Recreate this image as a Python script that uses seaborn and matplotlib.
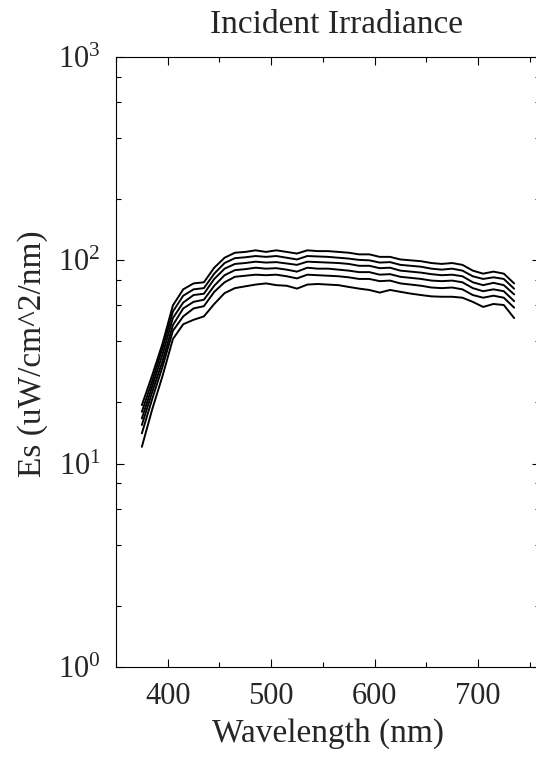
import matplotlib
matplotlib.use("Agg")
import matplotlib.pyplot as plt
import numpy as np
import pandas as pd
import seaborn as sns
from matplotlib.ticker import FixedLocator, MultipleLocator, LogLocator, NullFormatter, LogFormatterMathtext

# ---- data ----
wavelength = [375, 385, 395, 405, 415, 425, 435, 445, 455, 465, 475, 485, 495,
              505, 515, 525, 535, 545, 555, 565, 575, 585, 595, 605, 615, 625,
              635, 645, 655, 665, 675, 685, 695, 705, 715, 725, 735]

es_1 = [19.4, 27.2, 39, 60, 72, 77, 78, 92, 103, 109, 110, 112, 110,
        112, 110, 108, 112, 111, 111, 110, 109, 107, 107, 104, 104, 101,
        100, 99, 97, 96, 97, 95, 89, 86, 88, 86, 77]
es_2 = [18.0, 25.5, 37, 56, 67, 72, 73, 86, 97, 102.5, 103.5, 105, 104,
        105, 103, 101, 105, 104.5, 104, 103, 102, 100.5, 100, 97.5, 98, 95,
        94, 93, 91, 90, 91, 89, 83.5, 81, 82.5, 81, 72.5]
es_3 = [16.7, 24.0, 34.5, 52, 62, 67.5, 68.5, 81, 91, 96, 97, 98.5, 97.5,
        98, 96.5, 95, 98.5, 98, 97.5, 97, 96, 94, 94, 91.5, 92, 89,
        88, 87, 85.5, 84.5, 85, 83.5, 78, 75.5, 77.5, 75.5, 68]
es_4 = [15.5, 22.5, 32, 48, 58, 62.5, 64, 75, 84.5, 89.5, 90.5, 92, 91,
        91.5, 90, 88, 92, 91, 91, 90, 89, 87.5, 87.5, 85, 85.5, 83,
        82, 81, 79.5, 79, 79.5, 78, 73, 70.5, 72, 70.5, 63]
es_5 = [14.1, 20.8, 30, 45, 53, 58, 59.5, 70, 78, 83, 84, 85, 84.5,
        85, 83.5, 81.5, 85, 84.5, 84, 83.5, 82.5, 81, 81, 79, 79.5, 77,
        76, 75, 73.5, 73, 73.5, 72, 67.5, 65.5, 67, 65.5, 58.5]
es_6 = [12.1, 18.5, 27, 41, 48.5, 51, 53, 61, 69, 73, 74.5, 76, 77,
        75.5, 75, 72.6, 76, 76.5, 76, 75.5, 74, 72.6, 71.5, 69.4, 71.5, 70,
        68.6, 67.5, 66.5, 66.2, 66.2, 65.5, 62.5, 59, 61, 60.3, 52]

series = {"1": es_1, "2": es_2, "3": es_3, "4": es_4, "5": es_5, "6": es_6}

x_major = [400, 500, 600, 700]
title_text = "Incident Irradiance"
x_label = "Wavelength (nm)"
y_label = "Es (uW/cm^2/nm)"

frames = [pd.DataFrame({"wavelength": wavelength, "es": vals, "series": name})
          for name, vals in series.items()]
df = pd.concat(frames, ignore_index=True)

# ---- style ----
sns.set_style("ticks")
plt.rcParams["font.family"] = ["Liberation Serif", "DejaVu Serif"]
plt.rcParams["mathtext.fontset"] = "custom"
plt.rcParams["mathtext.rm"] = "Liberation Serif"
plt.rcParams["mathtext.it"] = "Liberation Serif:italic"
plt.rcParams["mathtext.bf"] = "Liberation Serif:bold"

W, H = 536, 758
fig = plt.figure(figsize=(W / 100, H / 100), dpi=100)
fig.patch.set_facecolor("white")
left, right, top, bottom = 116, 540, 57, 667
ax = fig.add_axes([left / W, 1 - bottom / H, (right - left) / W, (bottom - top) / H])

sns.lineplot(data=df, x="wavelength", y="es", hue="series",
             palette=["black"] * len(series), legend=False, linewidth=1.4,
             estimator=None, ax=ax)

ax.set_yscale("log")
ax.set_ylim(1, 1000)
ax.set_xlim(350, 760)

ax.xaxis.set_major_locator(FixedLocator(x_major))
ax.xaxis.set_minor_locator(MultipleLocator(50))
ax.yaxis.set_major_locator(LogLocator(base=10, numticks=10))
ax.yaxis.set_major_formatter(LogFormatterMathtext())
ax.yaxis.set_minor_locator(LogLocator(base=10, subs=[2, 4, 6, 8], numticks=10))
ax.yaxis.set_minor_formatter(NullFormatter())

ax.tick_params(which="both", direction="in", top=True, right=True,
               color="black", width=0.8)
ax.tick_params(which="major", length=6)
ax.tick_params(which="minor", length=3.5)
ax.tick_params(axis="x", which="major", labelsize=22, pad=11)
ax.tick_params(axis="y", which="major", labelsize=22, pad=11)

for s in ax.spines.values():
    s.set_linewidth(0.8)
    s.set_color("black")

ax.set_xlabel(x_label, fontsize=24, labelpad=5)
ax.set_ylabel(y_label, fontsize=24)
ax.yaxis.set_label_coords((48 - left) / (right - left), 1 - (354 - top) / (bottom - top))

fig.text(336 / W, 1 - 25 / H, title_text, fontsize=24, ha="center", va="center")

fig.savefig("out.png", dpi=100)
